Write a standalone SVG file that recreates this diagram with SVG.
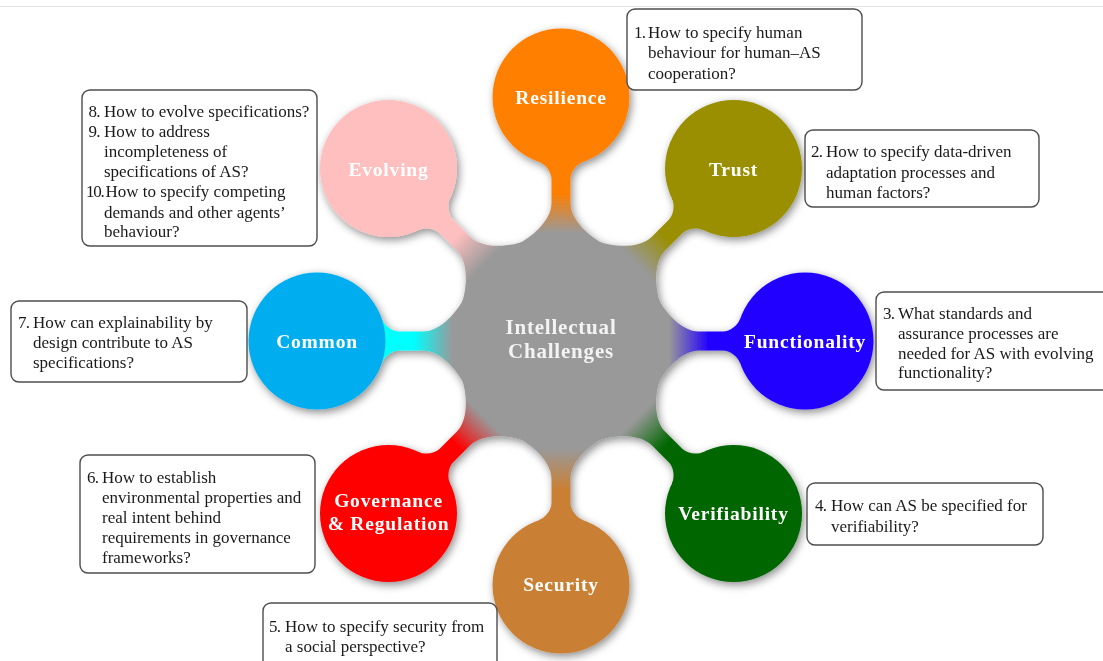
<svg xmlns="http://www.w3.org/2000/svg" width="1103" height="661" viewBox="0 0 1103 661">
  <style>
    .concept { font-family: "Liberation Serif", "DejaVu Serif", serif; font-weight: bold; font-size: 19.5px; fill: #ffffff; text-anchor: middle; letter-spacing: 0.8px; }
    .root { font-family: "Liberation Serif", "DejaVu Serif", serif; font-weight: bold; font-size: 21px; fill: #f3f3f3; text-anchor: middle; letter-spacing: 0.8px; }
    .box { fill: #ffffff; stroke: #4d4d4d; stroke-width: 1.4; }
    .q { font-family: "Liberation Serif", "DejaVu Serif", serif; font-size: 17px; fill: #1a1a1a; }
    .num { font-family: "Liberation Serif", "DejaVu Serif", serif; font-size: 17px; fill: #1a1a1a; letter-spacing: -0.8px; }
    .num2 { letter-spacing: -1.3px; }
  </style>
  <defs>
    <!-- soft circular shadow under the whole mind map -->
    <filter id="shadow" x="-10%" y="-10%" width="120%" height="120%">
      <feGaussianBlur in="SourceAlpha" stdDeviation="4"/>
      <feOffset dx="1.5" dy="2.5" result="blur"/>
      <feFlood flood-color="#000000" flood-opacity="0.45"/>
      <feComposite in2="blur" operator="in"/>
      <feMerge>
        <feMergeNode/>
        <feMergeNode in="SourceGraphic"/>
      </feMerge>
    </filter>
    <!-- bar gradients: root grey to child colour, in the bar's local frame -->
    <linearGradient id="gOrange" gradientUnits="userSpaceOnUse" x1="108" y1="0" x2="148" y2="0"><stop offset="0" stop-color="#999999"/><stop offset="1" stop-color="#FF7F00"/></linearGradient>
    <linearGradient id="gOlive" gradientUnits="userSpaceOnUse" x1="108" y1="0" x2="148" y2="0"><stop offset="0" stop-color="#999999"/><stop offset="1" stop-color="#998F00"/></linearGradient>
    <linearGradient id="gBlue" gradientUnits="userSpaceOnUse" x1="108" y1="0" x2="148" y2="0"><stop offset="0" stop-color="#999999"/><stop offset="1" stop-color="#2200FF"/></linearGradient>
    <linearGradient id="gGreen" gradientUnits="userSpaceOnUse" x1="108" y1="0" x2="148" y2="0"><stop offset="0" stop-color="#999999"/><stop offset="1" stop-color="#006600"/></linearGradient>
    <linearGradient id="gBrown" gradientUnits="userSpaceOnUse" x1="108" y1="0" x2="148" y2="0"><stop offset="0" stop-color="#999999"/><stop offset="1" stop-color="#C98035"/></linearGradient>
    <linearGradient id="gRed" gradientUnits="userSpaceOnUse" x1="108" y1="0" x2="148" y2="0"><stop offset="0" stop-color="#999999"/><stop offset="1" stop-color="#FF0000"/></linearGradient>
    <linearGradient id="gCyan" gradientUnits="userSpaceOnUse" x1="108" y1="0" x2="148" y2="0"><stop offset="0" stop-color="#999999"/><stop offset="1" stop-color="#00FFFF"/></linearGradient>
    <linearGradient id="gPink" gradientUnits="userSpaceOnUse" x1="108" y1="0" x2="148" y2="0"><stop offset="0" stop-color="#999999"/><stop offset="1" stop-color="#FFBFBF"/></linearGradient>
    <!-- tapered bar from the root circle (r=106) to a child circle (r=68.5) at distance 244 -->
    <path id="bar" d="M 0 0 L 96.1 -44.8 C 102.9 -30.3, 120 -9.5, 138 -9.5 L 162 -9.5 C 169 -9.5, 176.9 -15.7, 179.2 -22.3 L 244 0 L 179.2 22.3 C 176.9 15.7, 169 9.5, 162 9.5 L 138 9.5 C 120 9.5, 102.9 30.3, 96.1 44.8 Z"/>
  </defs>

  <line x1="0" y1="6.5" x2="1103" y2="6.5" stroke="#e2e2e2" stroke-width="1"/>

  <g id="mindmap" filter="url(#shadow)">
    <g id="connectors">
      <use href="#bar" fill="url(#gBlue)" transform="translate(561,341) rotate(0)"/>
      <use href="#bar" fill="url(#gGreen)" transform="translate(561,341) rotate(45)"/>
      <use href="#bar" fill="url(#gBrown)" transform="translate(561,341) rotate(90)"/>
      <use href="#bar" fill="url(#gRed)" transform="translate(561,341) rotate(135)"/>
      <use href="#bar" fill="url(#gCyan)" transform="translate(561,341) rotate(180)"/>
      <use href="#bar" fill="url(#gPink)" transform="translate(561,341) rotate(225)"/>
      <use href="#bar" fill="url(#gOrange)" transform="translate(561,341) rotate(270)"/>
      <use href="#bar" fill="url(#gOlive)" transform="translate(561,341) rotate(315)"/>
    </g>

    <g id="root">
      <circle cx="561" cy="341" r="106" fill="#999999"/>
      <text class="root" x="561" y="334">Intellectual</text>
      <text class="root" x="561" y="358">Challenges</text>
    </g>

    <g id="resilience">
      <circle cx="561" cy="97" r="68.5" fill="#FF7F00"/>
      <text class="concept" x="561" y="104">Resilience</text>
    </g>
    <g id="trust">
      <circle cx="733.5" cy="168.5" r="68.5" fill="#998F00"/>
      <text class="concept" x="733.5" y="175.5">Trust</text>
    </g>
    <g id="functionality">
      <circle cx="805" cy="341" r="68.5" fill="#2200FF"/>
      <text class="concept" x="805" y="348">Functionality</text>
    </g>
    <g id="verifiability">
      <circle cx="733.5" cy="513.5" r="68.5" fill="#006600"/>
      <text class="concept" x="733.5" y="520">Verifiability</text>
    </g>
    <g id="security">
      <circle cx="561" cy="585" r="68.5" fill="#C98035"/>
      <text class="concept" x="561" y="591">Security</text>
    </g>
    <g id="governance">
      <circle cx="388.5" cy="513.5" r="68.5" fill="#FF0000"/>
      <text class="concept" x="388.5" y="507">Governance</text>
      <text class="concept" x="388.5" y="530">&amp; Regulation</text>
    </g>
    <g id="common">
      <circle cx="317" cy="341" r="68.5" fill="#00AEEF"/>
      <text class="concept" x="317" y="348">Common</text>
    </g>
    <g id="evolving">
      <circle cx="388.5" cy="168.5" r="68.5" fill="#FFBFBF"/>
      <text class="concept" x="388.5" y="176">Evolving</text>
    </g>
  </g>

  <!-- question boxes -->
  <g id="q1">
    <rect class="box" x="627" y="9" width="235" height="81" rx="8"/>
    <text class="num" x="634" y="37.5">1.</text>
    <text class="q" x="648" y="37.5">How to specify human</text>
    <text class="q" x="648" y="58">behaviour for human–AS</text>
    <text class="q" x="648" y="78.5">cooperation?</text>
  </g>
  <g id="q2">
    <rect class="box" x="805" y="130" width="234" height="77" rx="8"/>
    <text class="num" x="811" y="157.3">2.</text>
    <text class="q" x="826" y="157.3">How to specify data-driven</text>
    <text class="q" x="826" y="177.5">adaptation processes and</text>
    <text class="q" x="826" y="197.5">human factors?</text>
  </g>
  <g id="q3">
    <rect class="box" x="876" y="292" width="240" height="98" rx="8"/>
    <text class="num" x="883" y="319">3.</text>
    <text class="q" x="898" y="319">What standards and</text>
    <text class="q" x="898" y="339">assurance processes are</text>
    <text class="q" x="898" y="358.5">needed for AS with evolving</text>
    <text class="q" x="898" y="378">functionality?</text>
  </g>
  <g id="q4">
    <rect class="box" x="807" y="483" width="236" height="62" rx="8"/>
    <text class="num" x="815" y="511">4.</text>
    <text class="q" x="831" y="511">How can AS be specified for</text>
    <text class="q" x="831" y="531.5">verifiability?</text>
  </g>
  <g id="q5">
    <rect class="box" x="263" y="603" width="234" height="70" rx="8"/>
    <text class="num" x="269" y="631.5">5.</text>
    <text class="q" x="285" y="631.5">How to specify security from</text>
    <text class="q" x="285" y="651.5">a social perspective?</text>
  </g>
  <g id="q6">
    <rect class="box" x="80" y="455" width="235" height="118" rx="8"/>
    <text class="num" x="87" y="483">6.</text>
    <text class="q" x="102" y="483">How to establish</text>
    <text class="q" x="102" y="503">environmental properties and</text>
    <text class="q" x="102" y="523">real intent behind</text>
    <text class="q" x="102" y="543">requirements in governance</text>
    <text class="q" x="102" y="563">frameworks?</text>
  </g>
  <g id="q7">
    <rect class="box" x="11" y="301" width="236" height="81" rx="8"/>
    <text class="num" x="18" y="327.5">7.</text>
    <text class="q" x="33" y="327.5">How can explainability by</text>
    <text class="q" x="33" y="348">design contribute to AS</text>
    <text class="q" x="33" y="368">specifications?</text>
  </g>
  <g id="q8">
    <rect class="box" x="82" y="90" width="235" height="156" rx="8"/>
    <text class="num" x="88.5" y="116.5">8.</text>
    <text class="q" x="104" y="116.5">How to evolve specifications?</text>
    <text class="num" x="88.5" y="136.5">9.</text>
    <text class="q" x="104" y="136.5">How to address</text>
    <text class="q" x="104" y="157">incompleteness of</text>
    <text class="q" x="104" y="177">specifications of AS?</text>
    <text class="num num2" x="86" y="197">10.</text>
    <text class="q" x="105.5" y="197">How to specify competing</text>
    <text class="q" x="104" y="217.5">demands and other agents’</text>
    <text class="q" x="104" y="237">behaviour?</text>
  </g>
</svg>
